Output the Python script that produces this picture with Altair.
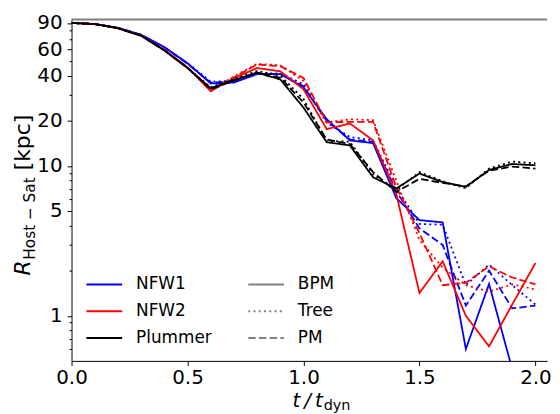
import altair as alt
import pandas as pd

t = [0.0, 0.1, 0.2, 0.3, 0.4, 0.5, 0.6, 0.7, 0.8, 0.9, 1.0,
     1.1, 1.2, 1.3, 1.4, 1.5, 1.6, 1.7, 1.8, 1.9, 2.0]

nfw1_bpm = [90, 88.5, 83.5, 75, 62, 48.5, 35.5, 36, 41, 41, 33.5, 20.5, 14.8, 14.2, 6.1, 4.35, 4.2, 0.6, 1.63, 0.44, 0.35]
nfw1_tree = [90, 88.5, 83.5, 75, 62, 48.5, 36.5, 37, 41.5, 41.5, 35, 19.5, 15.6, 14.8, 7.2, 4.1, 4.05, 1.6, 2.2, 1.6, 1.19]
nfw1_pm = [90, 88.5, 83.5, 75, 62, 48, 36, 36.5, 41, 41, 34, 20, 15, 14.5, 6.8, 3.83, 2.97, 1.17, 2.0, 1.12, 1.17]

nfw2_bpm = [90, 88.5, 83, 74, 59.5, 45.5, 31.5, 38.5, 45, 42.8, 32.5, 17.6, 19.2, 14.8, 6.5, 1.42, 2.31, 1.0, 0.625, 1.19, 2.25]
nfw2_tree = [90, 88.5, 83, 74, 59.5, 45.5, 32, 39.5, 48, 47, 36.9, 19.5, 20.5, 20.2, 8.0, 3.2, 2.1, 1.6, 1.45, 1.62, 1.5]
nfw2_pm = [90, 88.5, 83, 74, 59.5, 45.5, 32, 39, 47.5, 46.3, 38.7, 19.5, 19.7, 19.7, 7.2, 3.56, 1.6, 1.66, 2.14, 1.8, 1.62]

plummer_bpm = [90, 88.5, 83, 74, 59, 45, 33, 37.5, 41.8, 37.8, 24.5, 14.4, 13.7, 8.4, 7.07, 8.9, 7.8, 7.25, 9.4, 10.3, 10.1]
plummer_tree = [90, 88.5, 83, 74, 59, 45, 33.5, 38, 43, 40, 28, 14.7, 14.5, 8.8, 6.9, 9.1, 7.9, 7.1, 9.6, 10.7, 10.4]
plummer_pm = [90, 88.5, 83, 74, 59, 45, 32.5, 37, 42, 38.8, 26.5, 15, 14, 9.1, 6.7, 8.2, 7.7, 7.3, 9.3, 9.9, 9.6]

models = ["NFW1", "NFW2", "Plummer"]
model_colors = ["#0000ff", "#ff0000", "#000000"]
codes = ["BPM", "Tree", "PM"]
code_dashes = [[1, 0], [2, 3.3], [7.5, 3.3]]

y_major = [1, 5, 10, 20, 40, 60, 90]
y_minor = [0.6, 0.7, 0.8, 0.9, 2, 3, 4, 6, 7, 8, 9, 30, 50, 70, 80]
x_ticks = [0.0, 0.5, 1.0, 1.5, 2.0]
host_line = [95]

series = {
    ("NFW1", "BPM"): nfw1_bpm, ("NFW1", "Tree"): nfw1_tree, ("NFW1", "PM"): nfw1_pm,
    ("NFW2", "BPM"): nfw2_bpm, ("NFW2", "Tree"): nfw2_tree, ("NFW2", "PM"): nfw2_pm,
    ("Plummer", "BPM"): plummer_bpm, ("Plummer", "Tree"): plummer_tree, ("Plummer", "PM"): plummer_pm,
}
rows = []
for (m, c), vals in series.items():
    for ti, v in zip(t, vals):
        rows.append({"t": ti, "r": v, "model": m, "code": c})
df = pd.DataFrame(rows)

FONT = "DejaVu Sans"
yscale = alt.Scale(type="log", domain=[0.5, 95], nice=False)
xscale = alt.Scale(domain=[0, 2.05], nice=False, zero=False)

legend_common = dict(title=None, orient="none", legendY=248,
                     symbolType="stroke", symbolSize=1296, symbolStrokeWidth=2,
                     labelFontSize=17, labelFont=FONT, labelColor="black",
                     labelOffset=13, rowPadding=0)

lines = alt.Chart(df).mark_line(clip=True, strokeWidth=1.8).encode(
    x=alt.X("t:Q", scale=xscale,
            axis=alt.Axis(values=x_ticks, format=".1f", title=None, grid=False,
                          labelFontSize=20, labelFont=FONT, labelColor="black",
                          tickSize=4.5, tickColor="black", domainColor="black",
                          labelPadding=2, labelFlush=False)),
    y=alt.Y("r:Q", scale=yscale,
            axis=alt.Axis(values=y_major, format="d", title=None, grid=False,
                          labelFontSize=20, labelFont=FONT, labelColor="black",
                          tickSize=4.5, tickColor="black", domainColor="black",
                          labelPadding=5, orient="left")),
    color=alt.Color("model:N", scale=alt.Scale(domain=models, range=model_colors),
                    legend=alt.Legend(legendX=14, **legend_common)),
    strokeDash=alt.StrokeDash("code:N", scale=alt.Scale(domain=codes, range=code_dashes),
                              legend=alt.Legend(legendX=177, symbolStrokeColor="#808080",
                                                **legend_common)),
    detail="code:N",
)

top = alt.Chart(pd.DataFrame({"r": host_line})).mark_rule(color="#808080", strokeWidth=2).encode(
    y=alt.Y("r:Q", scale=yscale,
            axis=alt.Axis(values=y_minor, labels=False, title=None, grid=False, domain=False,
                          tickSize=2.5, tickColor="black", orient="left"))
)

def label(txt, x, y, size, angle=0, italic=False, align="left"):
    kw = dict(font=FONT, fontSize=size, align=align, baseline="alphabetic", color="black")
    if angle:
        kw["angle"] = angle
    if italic:
        kw["fontStyle"] = "italic"
    return alt.Chart(pd.DataFrame({"s": [txt]})).mark_text(**kw).encode(
        x=alt.value(x), y=alt.value(y), text="s:N")

titles = [
    label("t\u2009/\u2009t", 253, 390, 20, italic=True, align="right"),
    label("dyn", 254, 393.5, 14.5),
    label("R", -42, 258, 22, angle=270, italic=True),
    label("Host \u2212 Sat", -36.5, 242, 15.4, angle=270),
    label("[kpc]", -42, 152, 22, angle=270),
]

chart = alt.layer(lines, top, *titles).resolve_axis(y="independent").properties(
    width=479, height=344,
    autosize=alt.AutoSizeParams(type="none"),
    padding={"left": 64, "top": 10, "right": 5, "bottom": 52},
).configure_view(stroke=None)

chart.save("out.html", embed_options={"renderer": "svg", "actions": False})
